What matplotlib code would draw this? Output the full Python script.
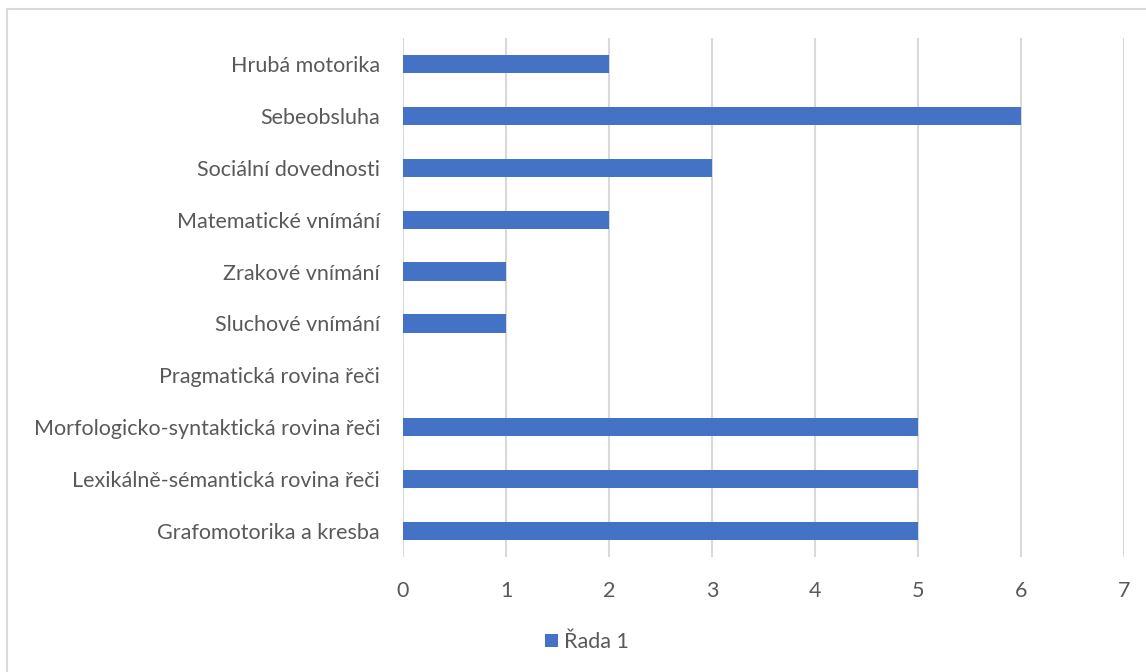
import matplotlib
matplotlib.use("Agg")
import matplotlib.pyplot as plt
from matplotlib.patches import Rectangle

categories = [
    "Grafomotorika a kresba",
    "Lexikálně-sémantická rovina řeči",
    "Morfologicko-syntaktická rovina řeči",
    "Pragmatická rovina řeči",
    "Sluchové vnímání",
    "Zrakové vnímání",
    "Matematické vnímání",
    "Sociální dovednosti",
    "Sebeobsluha",
    "Hrubá motorika",
]
values = [5, 5, 5, 0, 1, 1, 2, 3, 6, 2]
series_name = "Řada 1"
xticks = [0, 1, 2, 3, 4, 5, 6, 7]

plt.rcParams['font.family'] = ['Lato', 'DejaVu Sans']
text_color = "#595959"
bar_color = "#4472C4"
grid_color = "#D9D9D9"

fig = plt.figure(figsize=(11.46, 6.72), dpi=100)
ax = fig.add_axes([403/1146, 1 - 557/672, (1124 - 403)/1146, (557 - 38)/672])

ypos = list(range(len(categories)))
ax.barh(ypos, values, height=0.35, color=bar_color, label=series_name, zorder=3)
ax.set_ylim(-0.5, len(categories) - 0.5)
ax.set_xlim(0, 7)
ax.set_yticks(ypos)
ax.set_yticklabels(categories)
ax.set_xticks(xticks)
ax.set_xticklabels([str(t) for t in xticks])

for s in ax.spines.values():
    s.set_visible(False)
ax.grid(axis='x', color=grid_color, linewidth=1.5, zorder=0)
ax.tick_params(axis='both', length=0, labelsize=15.5, colors=text_color)
ax.tick_params(axis='y', pad=16.5)
ax.tick_params(axis='x', pad=17)

leg = fig.legend(loc='center', bbox_to_anchor=(587/1146, 1 - 642/672), frameon=False,
                 fontsize=15.5, handlelength=0.6, handleheight=0.6, handletextpad=0.3)
for t in leg.get_texts():
    t.set_color(text_color)

fig.patches.append(Rectangle((7/1146, -0.05), 1.1, 1 - 9/672 + 0.05, transform=fig.transFigure,
                             fill=False, edgecolor="#D9D9D9", linewidth=1.5))

fig.savefig("out.png", dpi=100, facecolor="white")
